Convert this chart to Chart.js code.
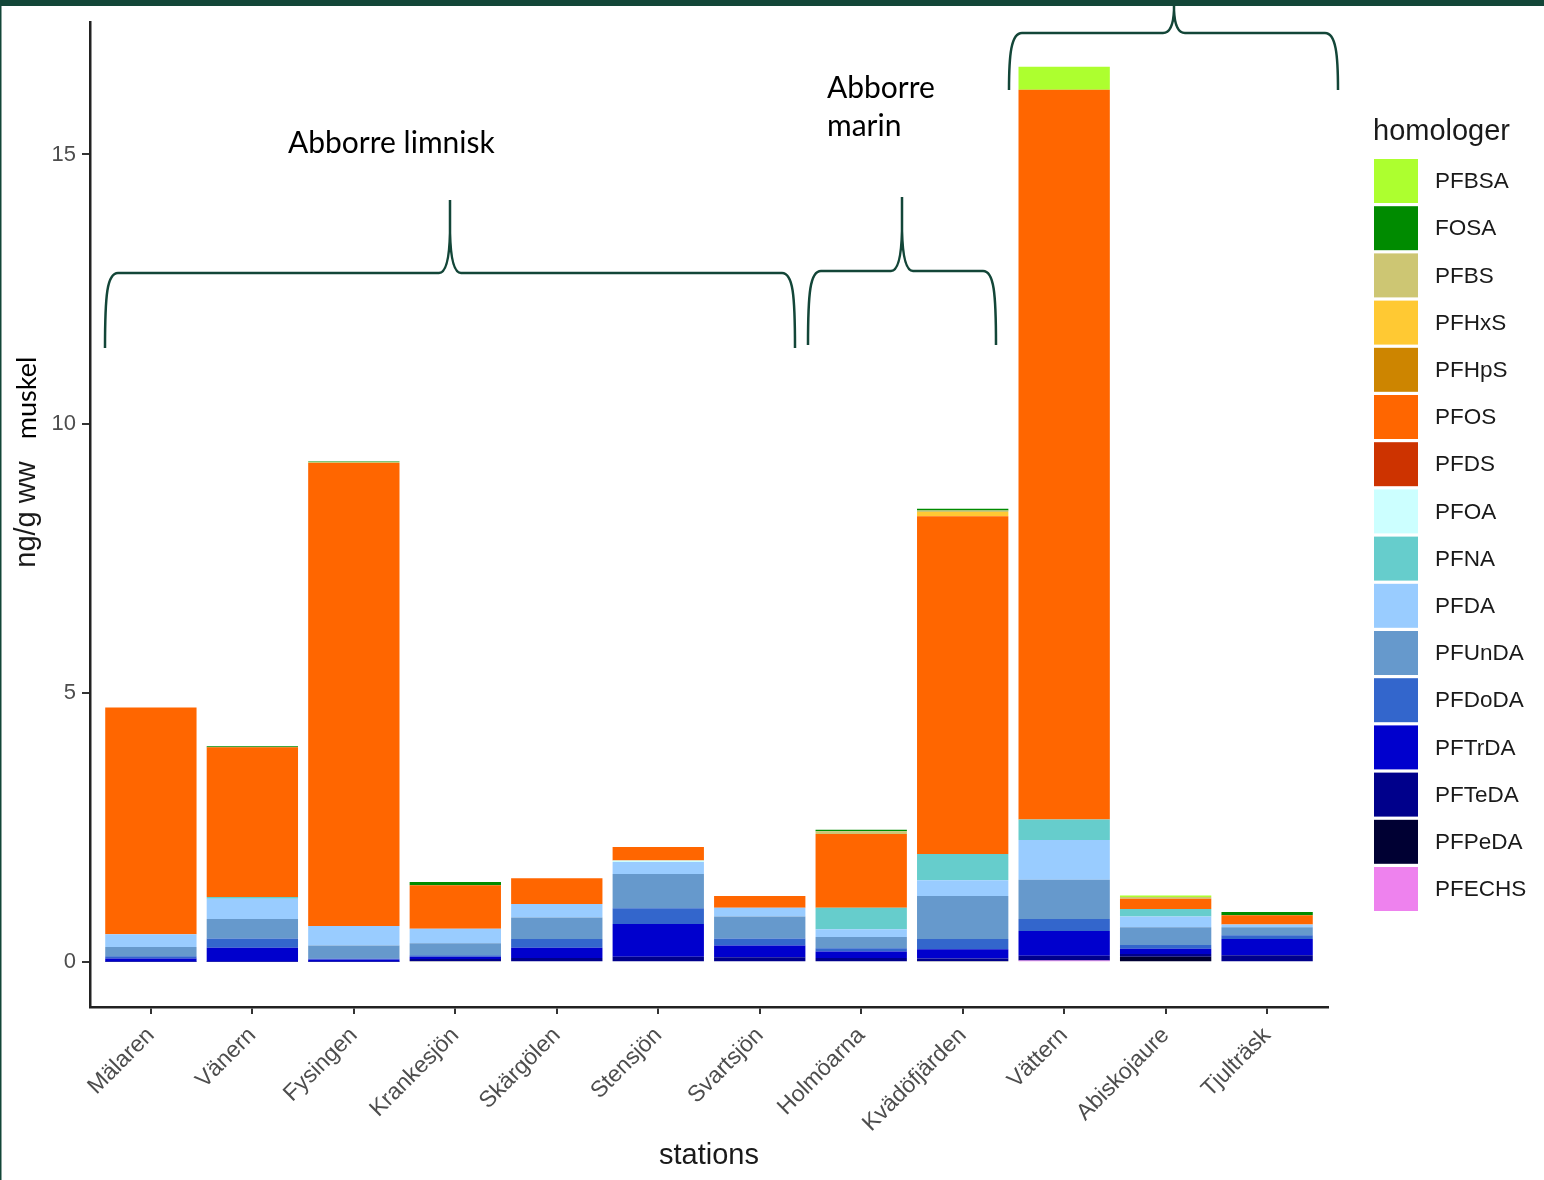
<!DOCTYPE html>
<html>
<head>
<meta charset="utf-8">
<script src="https://cdn.jsdelivr.net/npm/chart.js@4.4.1/dist/chart.umd.min.js"></script>
<style>
  html, body { margin: 0; padding: 0; background: #fff; }
  #wrap { width: 1544px; height: 1180px; }
</style>
</head>
<body>
<div id="wrap"><canvas id="chart" width="1544" height="1180"></canvas></div>
<script>
const stations = ['Mälaren', 'Vänern', 'Fysingen', 'Krankesjön', 'Skärgölen', 'Stensjön',
  'Svartsjön', 'Holmöarna', 'Kvädöfjärden', 'Vättern', 'Abiskojaure', 'Tjulträsk'];

// legend order (top of stack first)
const homologer = ['PFBSA', 'FOSA', 'PFBS', 'PFHxS', 'PFHpS', 'PFOS', 'PFDS', 'PFOA',
  'PFNA', 'PFDA', 'PFUnDA', 'PFDoDA', 'PFTrDA', 'PFTeDA', 'PFPeDA', 'PFECHS'];
const colors = ['#ADFF2F', '#008B00', '#CDC673', '#FFC933', '#CD8500', '#FF6600', '#CD3300', '#CCFFFF',
  '#66CDCC', '#99CCFF', '#6699CC', '#3366CC', '#0000CD', '#00008B', '#000033', '#EE82EE'];

// ng/g ww per station
const PFBSA  = [0, 0, 0, 0, 0, 0, 0, 0, 0, 0.43, 0.03, 0];
const FOSA   = [0, 0.02, 0.01, 0.06, 0, 0, 0, 0.03, 0.03, 0, 0, 0.06];
const PFBS   = [0, 0, 0.02, 0, 0, 0, 0, 0.05, 0.03, 0, 0.03, 0];
const PFHxS  = [0, 0, 0, 0, 0, 0, 0, 0, 0.08, 0, 0, 0];
const PFHpS  = [0, 0, 0, 0, 0, 0, 0, 0, 0, 0, 0, 0];
const PFOS   = [4.21, 2.78, 8.6, 0.81, 0.48, 0.25, 0.22, 1.37, 6.27, 13.55, 0.19, 0.17];
const PFDS   = [0, 0, 0, 0, 0, 0, 0, 0, 0, 0, 0, 0];
const PFOA   = [0, 0, 0, 0, 0, 0.03, 0, 0, 0, 0, 0, 0];
const PFNA   = [0, 0.03, 0, 0, 0, 0, 0, 0.40, 0.49, 0.38, 0.14, 0];
const PFDA   = [0.24, 0.38, 0.36, 0.27, 0.25, 0.22, 0.16, 0.14, 0.29, 0.74, 0.20, 0.05];
const PFUnDA = [0.17, 0.36, 0.24, 0.22, 0.40, 0.64, 0.41, 0.21, 0.80, 0.73, 0.33, 0.15];
const PFDoDA = [0.04, 0.17, 0.02, 0.03, 0.16, 0.29, 0.13, 0.06, 0.19, 0.22, 0.07, 0.07];
const PFTrDA = [0.06, 0.26, 0.04, 0.04, 0.19, 0.61, 0.22, 0.12, 0.17, 0.46, 0.10, 0.30];
const PFTeDA = [0.01, 0.01, 0.01, 0.04, 0.08, 0.10, 0.09, 0.08, 0.05, 0.09, 0.05, 0.13];
const PFPeDA = [0, 0, 0, 0.02, 0, 0, 0, 0, 0.02, 0, 0.10, 0];
const PFECHS = [0, 0, 0, 0, 0, 0, 0, 0, 0, 0.03, 0, 0];

const seriesValues = [PFBSA, FOSA, PFBS, PFHxS, PFHpS, PFOS, PFDS, PFOA,
  PFNA, PFDA, PFUnDA, PFDoDA, PFTrDA, PFTeDA, PFPeDA, PFECHS];
const yTicks = [0, 5, 10, 15];

const axisFont = '"Liberation Sans", Arial, sans-serif';
const noteFont = 'Lato, "Open Sans", sans-serif';
const frameGreen = '#134638';

// chart.js stacks the first dataset at the bottom, so build them reversed
const datasets = homologer.map((name, i) => ({
  label: name,
  data: seriesValues[i].map((v, j) => ({ x: j, y: v })),
  backgroundColor: colors[i],
  borderWidth: 0
})).reverse();

function brace(ctx, xl, xm, xr, yh, ytop, ybot) {
  const c = Math.min(40, (yh - ytop) * 0.6);
  ctx.beginPath();
  ctx.moveTo(xl, ybot);
  ctx.bezierCurveTo(xl, yh + 22, xl + 2, yh, xl + 13, yh);
  ctx.lineTo(xm - 11, yh);
  ctx.quadraticCurveTo(xm - 1, yh, xm, yh - c);
  ctx.lineTo(xm, ytop);
  ctx.moveTo(xm, yh - c);
  ctx.quadraticCurveTo(xm + 1, yh, xm + 11, yh);
  ctx.lineTo(xr - 13, yh);
  ctx.bezierCurveTo(xr - 2, yh, xr, yh + 22, xr, ybot);
  ctx.stroke();
}

const notes = {
  id: 'notes',
  beforeDraw(chart) {
    const ctx = chart.ctx;
    ctx.save();
    ctx.fillStyle = '#ffffff';
    ctx.fillRect(0, 0, chart.width, chart.height);
    ctx.restore();
  },
  afterDraw(chart) {
    const ctx = chart.ctx;
    ctx.save();

    // legend
    ctx.fillStyle = '#1a1a1a';
    ctx.font = '29px ' + axisFont;
    ctx.textBaseline = 'alphabetic';
    ctx.fillText('homologer', 1373, 140);
    ctx.font = '22.5px ' + axisFont;
    ctx.textBaseline = 'middle';
    homologer.forEach((name, i) => {
      const y = 159 + i * 47.2;
      ctx.fillStyle = colors[i];
      ctx.fillRect(1374, y, 44, 44);
      ctx.fillStyle = '#1a1a1a';
      ctx.fillText(name, 1435, y + 23);
    });

    // braces and labels
    ctx.strokeStyle = frameGreen;
    ctx.lineWidth = 2.5;
    brace(ctx, 105, 450, 795, 273, 200, 348);
    brace(ctx, 808, 902, 996, 271, 197, 345);
    brace(ctx, 1009, 1174, 1338, 33, -5, 90);

    ctx.fillStyle = '#000';
    ctx.font = '30px ' + noteFont;
    ctx.textBaseline = 'alphabetic';
    ctx.fillText('Abborre limnisk', 288, 153);
    ctx.fillText('Abborre', 827, 98);
    ctx.fillText('marin', 827, 136);

    ctx.save();
    ctx.translate(27, 398);
    ctx.rotate(-Math.PI / 2);
    ctx.textAlign = 'center';
    ctx.textBaseline = 'middle';
    ctx.font = '27px ' + noteFont;
    ctx.fillText('muskel', 0, 0);
    ctx.restore();

    // frame
    ctx.fillStyle = frameGreen;
    ctx.fillRect(0, 0, chart.width, 6);
    ctx.fillRect(0, 0, 1.5, chart.height);
    ctx.restore();
  }
};

new Chart(document.getElementById('chart'), {
  type: 'bar',
  data: { datasets: datasets },
  plugins: [notes],
  options: {
    responsive: false,
    animation: false,
    layout: { padding: { top: 22, right: 216, left: 0, bottom: 0 } },
    datasets: { bar: { barPercentage: 0.9, categoryPercentage: 1.0 } },
    plugins: { legend: { display: false }, tooltip: { enabled: false } },
    scales: {
      x: {
        type: 'linear',
        stacked: true,
        offset: false,
        min: -0.6,
        max: 11.6,
        afterFit: s => { s.height = 173; },
        afterBuildTicks: s => { s.ticks = stations.map((_, i) => ({ value: i })); },
        border: { display: true, color: '#222', width: 2.5 },
        grid: { offset: false, drawOnChartArea: false, tickLength: 7, color: '#333', lineWidth: 2 },
        ticks: {
          autoSkip: false,
          minRotation: 45,
          maxRotation: 45,
          padding: 8,
          color: '#4D4D4D',
          font: { family: axisFont, size: 23 },
          callback: v => stations[v]
        },
        title: {
          display: true,
          text: 'stations',
          color: '#1a1a1a',
          padding: { top: 0, bottom: 7 },
          font: { family: axisFont, size: 29 }
        }
      },
      y: {
        stacked: true,
        min: -0.832,
        max: 17.46,
        afterFit: s => { s.width = 90; },
        afterBuildTicks: s => { s.ticks = yTicks.map(v => ({ value: v })); },
        border: { display: true, color: '#222', width: 2.5 },
        grid: { drawOnChartArea: false, tickLength: 8, color: '#333', lineWidth: 2 },
        ticks: {
          padding: 6,
          color: '#4D4D4D',
          font: { family: axisFont, size: 22 }
        },
        title: {
          display: true,
          text: 'ng/g ww',
          color: '#1a1a1a',
          padding: { top: 10, bottom: 0 },
          font: { family: axisFont, size: 29 }
        }
      }
    }
  }
});
</script>
</body>
</html>
